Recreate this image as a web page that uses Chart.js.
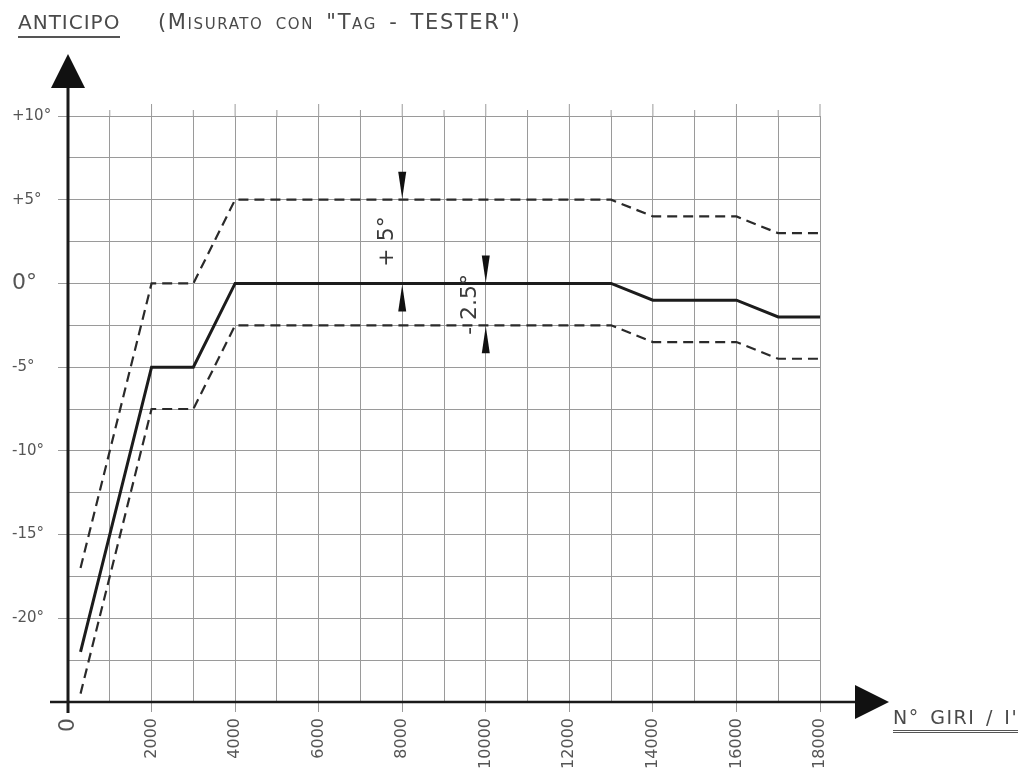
<!DOCTYPE html>
<html>
<head>
<meta charset="utf-8">
<script src="https://cdn.jsdelivr.net/npm/chart.js@4"></script>
<style>
    body { margin: 0; background: #fff; }
    #wrap { position: relative; width: 1029px; height: 770px; }
    .lbl { position: absolute; font-family: "DejaVu Sans", sans-serif; color: #4a4a4a; white-space: nowrap; }
    #ytitle { left: 18px; top: 10px; font-size: 20px; border-bottom: 2px solid #555; padding-bottom: 2px; letter-spacing: 1px; }
    #sub { left: 158px; top: 10px; font-size: 21px; font-variant: small-caps; letter-spacing: 1.6px; word-spacing: 4px; }
    #xtitle { left: 893px; top: 706px; font-size: 19px; border-bottom: 3px double #555; padding-bottom: 2px; letter-spacing: 1.5px; word-spacing: 3px; }
</style>
</head>
<body>
<div id="wrap">
    <canvas id="anticipoChart"></canvas>
    <div class="lbl" id="ytitle">ANTICIPO</div>
    <div class="lbl" id="sub">(Misurato con "Tag - TESTER")</div>
    <div class="lbl" id="xtitle">N° GIRI / I'</div>
</div>
<script>
// giri/min
const giri = [300, 2000, 3000, 4000, 13000, 14000, 16000, 17000, 18000];
// anticipo (gradi)
const nominale = [-22, -5, -5, 0, 0, -1, -1, -2, -2];
const limiteSup = [-17, 0, 0, 5, 5, 4, 4, 3, 3];
const limiteInf = [-24.5, -7.5, -7.5, -2.5, -2.5, -3.5, -3.5, -4.5, -4.5];
// tolleranze indicate con le frecce: [giri, da, a, testo]
const tolleranze = [
    [8000, 5, 0, "+ 5°"],
    [10000, 0, -2.5, "- 2.5°"],
];

function punti(ys) {
    return giri.map(function (g, i) { return { x: g, y: ys[i] }; });
}

function freccia(ctx, x, tipY, dir) {
    // dir = 1 punta in basso, -1 punta in alto
    ctx.beginPath();
    ctx.moveTo(x, tipY);
    ctx.lineTo(x - 4, tipY - dir * 27);
    ctx.lineTo(x + 4, tipY - dir * 27);
    ctx.closePath();
    ctx.fill();
}

const assiPlugin = {
    id: "assi",
    afterDraw(chart) {
        const ctx = chart.ctx;
        const xs = chart.scales.x;
        const ys = chart.scales.y;
        const x0 = xs.getPixelForValue(0);
        const y0 = ys.getPixelForValue(-25);
        const top = chart.chartArea.top;
        ctx.save();
        // tacche sopra la griglia
        ctx.strokeStyle = "#9a9a9a";
        ctx.lineWidth = 1;
        xs.ticks.forEach(function (t) {
            if (t.value === 0) return;
            const px = xs.getPixelForValue(t.value);
            ctx.beginPath();
            ctx.moveTo(px, top);
            ctx.lineTo(px, top - (t.value % 2000 === 0 ? 12 : 6));
            ctx.stroke();
        });
        // assi
        ctx.strokeStyle = "#1a1a1a";
        ctx.fillStyle = "#111";
        ctx.lineWidth = 3;
        ctx.beginPath();
        ctx.moveTo(x0, 80);
        ctx.lineTo(x0, y0 + 11);
        ctx.stroke();
        ctx.lineWidth = 2.5;
        ctx.beginPath();
        ctx.moveTo(x0 - 18, y0);
        ctx.lineTo(860, y0);
        ctx.stroke();
        // frecce assi
        ctx.beginPath();
        ctx.moveTo(x0, 54);
        ctx.lineTo(x0 - 17, 88);
        ctx.lineTo(x0 + 17, 88);
        ctx.closePath();
        ctx.fill();
        ctx.beginPath();
        ctx.moveTo(889, y0);
        ctx.lineTo(855, y0 - 17);
        ctx.lineTo(855, y0 + 17);
        ctx.closePath();
        ctx.fill();
        // tolleranze
        tolleranze.forEach(function (t) {
            const px = xs.getPixelForValue(t[0]);
            const yA = ys.getPixelForValue(t[1]);
            const yB = ys.getPixelForValue(t[2]);
            ctx.fillStyle = "#111";
            freccia(ctx, px, yA - 1, 1);
            freccia(ctx, px, yB + 1, -1);
            ctx.save();
            ctx.translate(px - 15, (yA + yB) / 2);
            ctx.rotate(-Math.PI / 2);
            ctx.fillStyle = "#3a3a3a";
            ctx.font = "22px 'DejaVu Sans'";
            ctx.textAlign = "center";
            ctx.textBaseline = "middle";
            ctx.fillText(t[3], 0, 0);
            ctx.restore();
        });
        ctx.restore();
    },
};

document.addEventListener("DOMContentLoaded", function () {
    const ctx = document.getElementById("anticipoChart").getContext("2d");
    new Chart(ctx, {
        type: "line",
        data: {
            datasets: [
                {
                    data: punti(nominale),
                    borderColor: "#1c1c1c",
                    borderWidth: 3,
                    pointRadius: 0,
                    tension: 0,
                },
                {
                    data: punti(limiteSup),
                    borderColor: "#2a2a2a",
                    borderWidth: 2.2,
                    borderDash: [10, 6],
                    pointRadius: 0,
                    tension: 0,
                },
                {
                    data: punti(limiteInf),
                    borderColor: "#2a2a2a",
                    borderWidth: 2.2,
                    borderDash: [10, 6],
                    pointRadius: 0,
                    tension: 0,
                },
            ],
        },
        options: {
            responsive: true,
            maintainAspectRatio: false,
            animation: false,
            layout: { padding: { left: 12, top: 116, right: 209, bottom: 0 } },
            plugins: { legend: { display: false }, tooltip: { enabled: false } },
            scales: {
                x: {
                    type: "linear",
                    min: 0,
                    max: 18000,
                    afterFit: function (s) { s.height = 68; },
                    border: { display: false },
                    grid: {
                        color: "#9a9a9a",
                        tickLength: 10,
                        tickColor: function (c) { return c.tick && c.tick.value % 2000 === 0 ? "#9a9a9a" : "rgba(0,0,0,0)"; },
                    },
                    ticks: {
                        stepSize: 1000,
                        autoSkip: false,
                        minRotation: 90,
                        maxRotation: 90,
                        padding: 6,
                        color: "#555",
                        font: function (c) {
                            return { family: "DejaVu Sans", size: c.tick && c.tick.value === 0 ? 22 : 16 };
                        },
                        callback: function (v) { return v % 2000 === 0 ? String(v) : ""; },
                    },
                },
                y: {
                    min: -25,
                    max: 10,
                    afterFit: function (s) { s.width = 56; },
                    border: { display: false },
                    grid: {
                        color: "#9a9a9a",
                        tickLength: 10,
                        tickColor: function (c) { return c.tick && c.tick.value % 5 === 0 ? "#9a9a9a" : "rgba(0,0,0,0)"; },
                    },
                    ticks: {
                        stepSize: 2.5,
                        crossAlign: "far",
                        color: "#555",
                        font: function (c) {
                            return { family: "DejaVu Sans", size: c.tick && c.tick.value === 0 ? 22 : 15 };
                        },
                        callback: function (v) {
                            if (v % 5 !== 0 || v === -25) return "";
                            return (v > 0 ? "+" : "") + v + "°";
                        },
                    },
                },
            },
        },
        plugins: [assiPlugin],
    });
});
</script>
</body>
</html>
